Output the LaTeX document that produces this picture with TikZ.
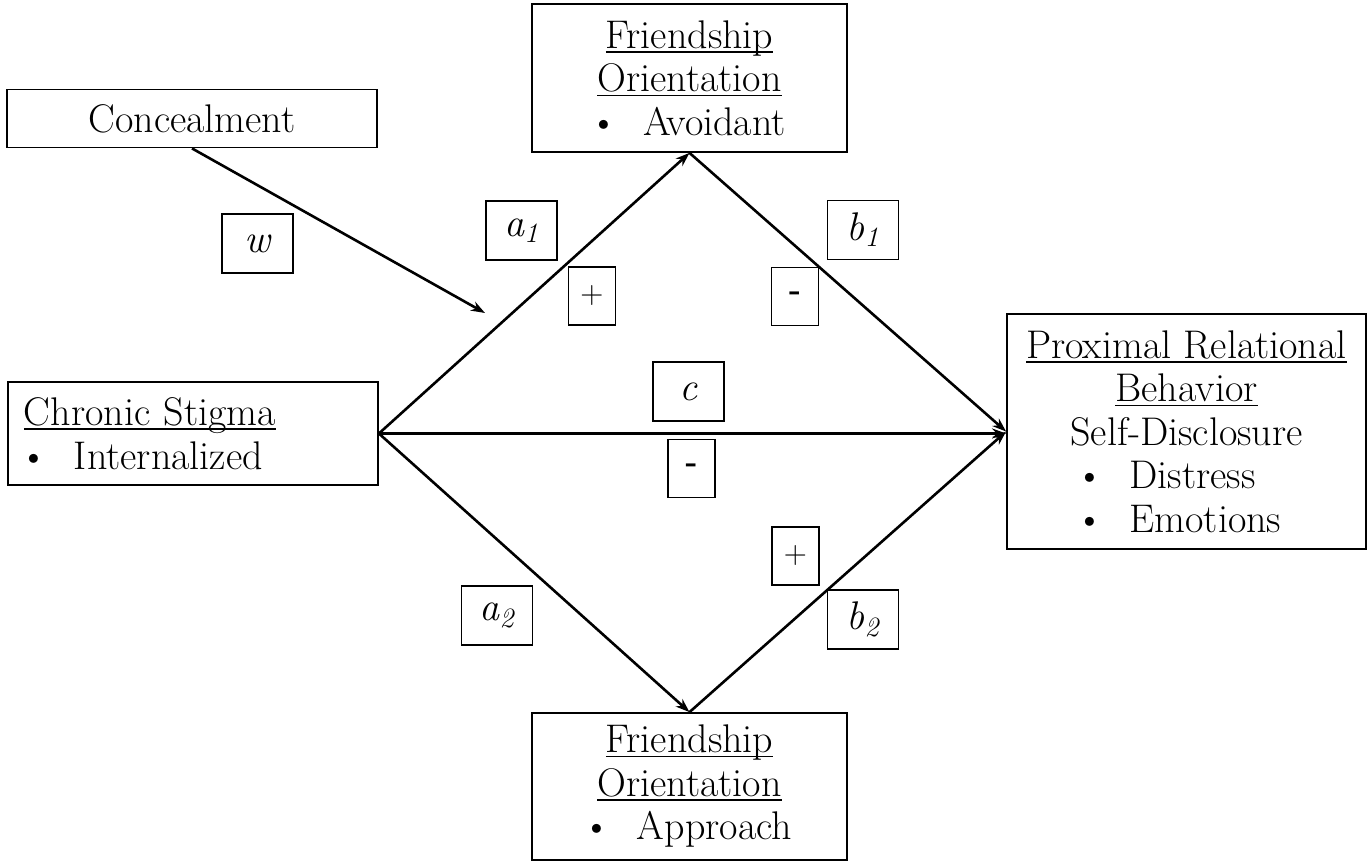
\documentclass[tikz,border=0pt]{standalone}
\usepackage{fontspec}
\usetikzlibrary{arrows.meta}
\newcommand{\myul}[1]{\setbox0\hbox{#1}\rlap{\rule[-2.2pt]{\wd0}{0.75pt}}\box0}
\newcommand{\bul}{\makebox[25pt][l]{\hspace{-2pt}\textbullet}}
\begin{document}
\begin{tikzpicture}[x=0.5pt,y=-0.5pt,
  box/.style={draw, line width=0.9pt, inner sep=0pt, align=center, font=\fontsize{20}{21.75}\selectfont},
  lab/.style={draw, line width=0.8pt, inner sep=0pt, minimum width=35.5pt, minimum height=29.5pt, font=\fontsize{20}{21.75}\selectfont\itshape},
  sgn/.style={draw, line width=0.8pt, inner sep=0pt, minimum width=23.5pt, minimum height=29pt, font=\fontsize{16}{18}\selectfont},
  arr/.style={line width=1.3pt, -{Stealth[length=7pt,width=5pt]}}]
\useasboundingbox (0,0) rectangle (1370,862);
% main boxes
\node[box, minimum width=185pt, minimum height=29pt] (conc) at (192,118.5) {Concealment};
\node[box, minimum width=157.5pt, minimum height=74pt] (top) at (689.5,78) {\myul{Friendship}\\ \myul{Orientation}\\ \bul Avoidant};
\node[box, align=left, text width=169pt, inner xsep=8pt, minimum height=51.5pt] (chr) at (193,433.5) {\myul{Chronic Stigma}\\ \bul Internalized};
\node[box, minimum width=179.5pt, minimum height=117.5pt] (prox) at (1186.5,431.5) {\myul{Proximal Relational}\\ \myul{Behavior}\\ Self-Disclosure\\ \makebox[107pt][l]{\bul Distress}\\ \makebox[107pt][l]{\bul Emotions}};
\node[box, minimum width=157.5pt, minimum height=73.5pt] (bot) at (689.5,786.5) {\myul{Friendship}\\ \myul{Orientation}\\ \bul Approach};
% label boxes
\node[lab] (w) at (257.5,243.5) {w};
\node[lab] (a1) at (521.5,230.5) {a\textsubscript{1}};
\node[lab] (b1) at (863,230) {b\textsubscript{1}};
\node[lab] (c) at (688.5,391.5) {c};
\node[lab] (a2) at (497,615.5) {a\textsubscript{2}};
\node[lab] (b2) at (863,619.5) {b\textsubscript{2}};
\node[sgn] (p1) at (592,296) {+};
\node[sgn] (m1) at (795,296.5) {\textbf{-}};
\node[sgn] (m2) at (691.5,468.5) {\textbf{-}};
\node[sgn] (p2) at (795.5,556) {+};
% connectors
\coordinate (mod) at (485,313);
\draw[arr] (conc.south) -- (mod);
\draw[arr] (chr.east) -- (top.south);
\draw[arr] (chr.east) -- (bot.north);
\draw[arr] (chr.east) -- (chr.east -| prox.west);
\draw[arr] (top.south) -- (prox.west);
\draw[arr] (bot.north) -- (prox.west);
\end{tikzpicture}
\end{document}
